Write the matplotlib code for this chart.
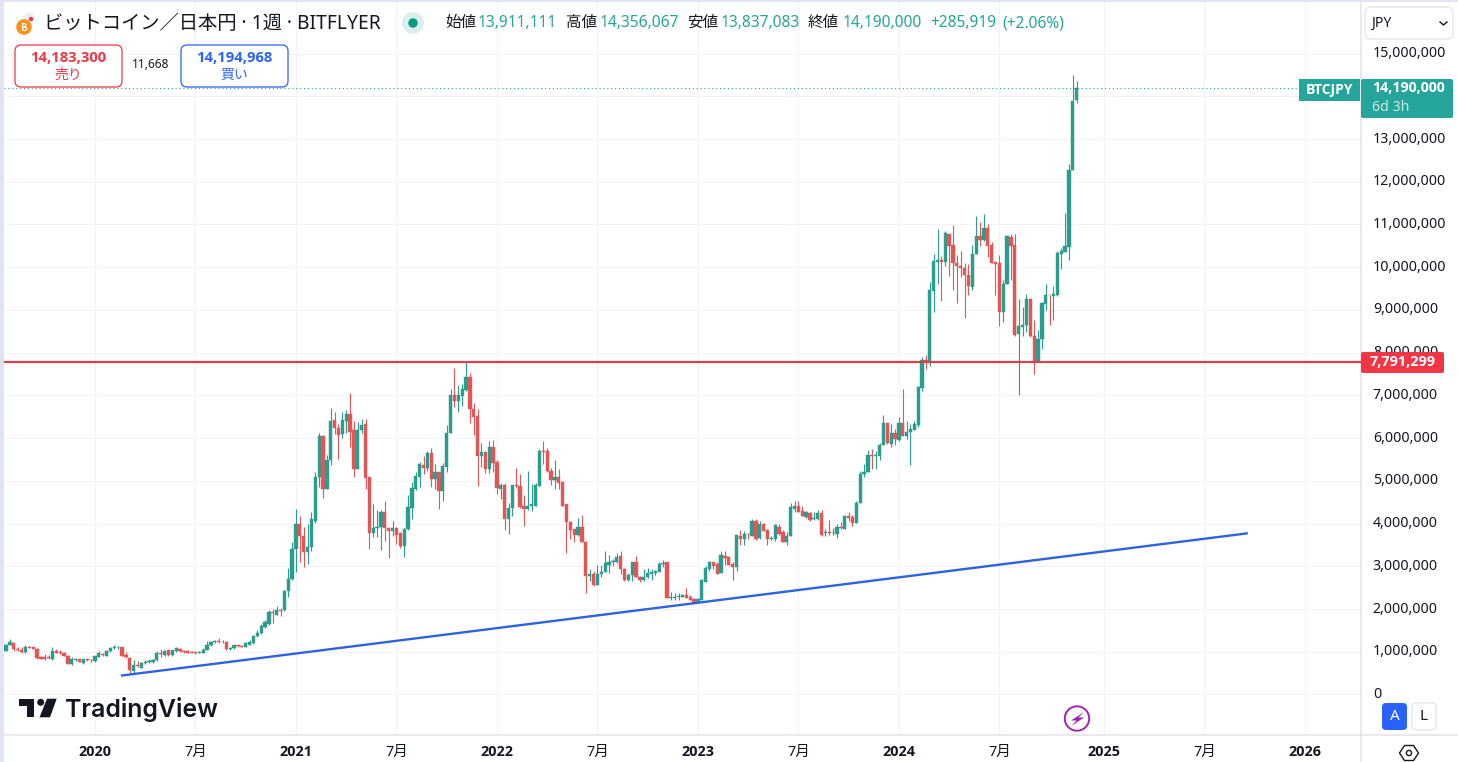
import numpy as np
import pandas as pd
import matplotlib
matplotlib.use("Agg")
import matplotlib.pyplot as plt
from matplotlib.patches import Circle, FancyBboxPatch, Polygon, Rectangle

plt.rcParams['font.family'] = ['Noto Sans', 'Noto Sans CJK JP', 'DejaVu Sans']
BOLD_FONT = ['Open Sans', 'Noto Sans CJK JP', 'DejaVu Sans']

# --- Weekly BTC/JPY candles, in units of 10,000 yen ---
first_week = "2019-07-29"

opens = [
    101, 117, 121, 107, 105, 100, 112, 110, 107, 88,
    88, 88, 84, 101, 100, 98, 91, 72, 80, 82,
    74, 82, 81, 78, 88, 95, 91, 101, 109, 110,
    111, 92, 85, 55, 69, 62, 73, 75, 75, 80,
    97, 92, 103, 93, 101, 107, 102, 101, 100, 99,
    98, 97, 104, 116, 122, 126, 123, 124, 106, 108,
    115, 114, 111, 117, 120, 136, 143, 158, 165, 194,
    187, 198, 197, 242, 271, 340, 398, 372, 333, 345,
    407, 509, 606, 481, 549, 643, 624, 610, 641, 657,
    618, 527, 618, 632, 508, 378, 390, 391, 427, 390,
    382, 390, 377, 347, 387, 436, 481, 510, 538, 530,
    566, 504, 520, 476, 532, 612, 702, 688, 698, 713,
    744, 669, 651, 557, 568, 527, 580, 543, 482, 491,
    410, 437, 490, 487, 440, 434, 442, 442, 489, 571,
    569, 524, 501, 508, 498, 445, 404, 387, 373, 391,
    358, 277, 282, 257, 282, 286, 304, 311, 310, 323,
    294, 267, 279, 310, 276, 267, 275, 281, 285, 286,
    305, 310, 226, 226, 229, 229, 234, 229, 224, 215,
    222, 264, 294, 310, 305, 284, 325, 321, 305, 298,
    370, 365, 376, 372, 406, 367, 399, 384, 363, 364,
    393, 380, 358, 371, 434, 441, 430, 415, 425, 410,
    410, 424, 378, 381, 377, 376, 393, 388, 417, 415,
    402, 448, 515, 520, 561, 559, 558, 584, 635, 587,
    612, 596, 636, 604, 614, 619, 630, 718, 782, 776,
    944, 1012, 1018, 1012, 1078, 1051, 1011, 1004, 999, 982,
    954, 1030, 1072, 1063, 1091, 1051, 1012, 1010, 895, 960,
    1071, 1051, 843, 860, 864, 925, 840, 778, 833, 915,
    936, 932, 936, 1030, 1036, 1047, 1228, 1391.1111,
]
closes = [
    117, 122, 107, 104, 100, 112, 109, 107, 86, 84,
    83, 86, 101, 98, 97, 91, 72, 83, 82, 76,
    82, 80, 80, 89, 97, 93, 101, 109, 111, 111,
    90, 87, 58, 68, 67, 73, 77, 79, 81, 97,
    95, 102, 93, 103, 109, 101, 100, 98, 98, 97,
    100, 105, 117, 124, 125, 122, 124, 106, 108, 115,
    113, 112, 120, 122, 137, 145, 161, 169, 194, 190,
    198, 196, 243, 271, 341, 398, 370, 333, 346, 410,
    510, 606, 481, 549, 641, 623, 608, 643, 657, 615,
    527, 619, 631, 506, 378, 390, 392, 428, 389, 382,
    390, 374, 347, 388, 438, 483, 512, 540, 529, 566,
    504, 520, 476, 534, 612, 702, 688, 700, 716, 744,
    667, 649, 557, 568, 528, 580, 541, 483, 491, 410,
    437, 490, 487, 438, 434, 442, 445, 491, 571, 567,
    522, 501, 508, 496, 442, 403, 384, 373, 391, 357,
    277, 282, 257, 282, 287, 307, 310, 313, 321, 293,
    267, 280, 310, 275, 267, 275, 284, 286, 290, 305,
    307, 225, 228, 228, 231, 234, 226, 221, 215, 224,
    268, 296, 310, 300, 282, 326, 319, 302, 298, 373,
    364, 376, 375, 406, 365, 398, 382, 364, 366, 396,
    376, 358, 372, 438, 441, 428, 417, 426, 409, 412,
    424, 374, 381, 378, 378, 393, 389, 417, 414, 402,
    449, 516, 520, 561, 559, 561, 585, 635, 588, 613,
    598, 636, 604, 615, 622, 632, 719, 782, 777, 946,
    1014, 1018, 1012, 1080, 1050, 1010, 1002, 997, 981, 955,
    1032, 1074, 1063, 1091, 1049, 1010, 1008, 895, 961, 1073,
    1050, 842, 862, 865, 925, 838, 778, 833, 916, 936,
    934, 938, 1033, 1039, 1049, 1228, 1388, 1419,
]
highs = [
    118, 130, 122, 110, 110, 117, 113, 112, 108, 90,
    95, 92, 110, 106, 103, 99, 92, 88, 85, 83,
    84, 84, 84, 90, 102, 97, 103, 110, 115, 113,
    112, 100, 87, 80, 78, 77, 81, 83, 84, 101,
    107, 105, 104, 105, 112, 109, 103, 104, 102, 100,
    101, 108, 125, 126, 128, 133, 127, 125, 112, 117,
    116, 116, 122, 127, 139, 150, 166, 175, 197, 199,
    207, 202, 245, 295, 358, 434, 417, 393, 398, 427,
    520, 613, 608, 561, 671, 662, 633, 661, 666, 706,
    641, 637, 645, 645, 509, 445, 432, 432, 454, 392,
    405, 392, 380, 389, 466, 498, 521, 544, 559, 569,
    577, 540, 521, 541, 630, 714, 764, 725, 727, 778,
    753, 683, 668, 589, 570, 594, 596, 549, 495, 495,
    448, 491, 530, 515, 466, 522, 493, 495, 574, 594,
    576, 530, 549, 527, 499, 446, 405, 387, 413, 419,
    360, 294, 290, 304, 304, 335, 327, 316, 331, 335,
    296, 285, 311, 323, 277, 294, 295, 294, 291, 310,
    314, 311, 241, 237, 238, 235, 249, 232, 225, 226,
    271, 300, 312, 311, 310, 337, 337, 325, 310, 374,
    384, 382, 379, 411, 411, 407, 401, 388, 372, 398,
    399, 384, 381, 448, 452, 454, 440, 429, 427, 428,
    432, 431, 388, 409, 389, 398, 403, 419, 427, 419,
    452, 522, 540, 572, 575, 571, 589, 653, 636, 632,
    622, 649, 714, 641, 632, 641, 721, 791, 794, 966,
    1032, 1089, 1027, 1084, 1078, 1098, 1029, 1039, 1011, 1007,
    1051, 1119, 1106, 1124, 1100, 1060, 1013, 1029, 971, 1075,
    1078, 1077, 925, 908, 938, 927, 877, 854, 919, 960,
    936, 955, 1038, 1044, 1127, 1242, 1449, 1435.6067,
]
lows = [
    101, 116, 102, 101, 98, 98, 108, 106, 84, 82,
    81, 84, 80, 96, 95, 90, 71, 70, 78, 75,
    71, 78, 75, 76, 87, 90, 89, 99, 107, 106,
    89, 86, 47, 50, 64, 61, 72, 74, 74, 78,
    88, 89, 91, 91, 99, 99, 96, 97, 96, 95,
    97, 96, 103, 114, 120, 120, 121, 105, 104, 106,
    112, 110, 110, 116, 119, 134, 141, 156, 163, 168,
    186, 183, 195, 228, 267, 286, 310, 298, 306, 337,
    401, 485, 459, 480, 536, 610, 551, 600, 612, 579,
    510, 527, 612, 480, 340, 368, 368, 339, 360, 320,
    371, 353, 343, 321, 386, 410, 479, 485, 516, 524,
    485, 481, 434, 454, 521, 611, 674, 661, 676, 710,
    635, 608, 487, 532, 518, 518, 520, 470, 457, 386,
    376, 417, 484, 437, 394, 432, 429, 440, 487, 540,
    520, 491, 482, 481, 441, 331, 364, 356, 371, 356,
    237, 265, 253, 257, 275, 286, 284, 300, 307, 283,
    266, 265, 265, 274, 263, 266, 273, 267, 279, 286,
    298, 225, 220, 220, 222, 228, 226, 220, 215, 214,
    222, 263, 290, 294, 281, 284, 302, 302, 267, 290,
    351, 350, 364, 371, 362, 365, 382, 351, 362, 360,
    374, 356, 349, 371, 427, 427, 417, 413, 406, 409,
    409, 372, 372, 374, 374, 366, 387, 387, 406, 395,
    402, 448, 510, 520, 528, 528, 548, 584, 587, 579,
    585, 593, 604, 598, 538, 618, 626, 710, 762, 769,
    895, 960, 921, 1003, 979, 946, 916, 977, 881, 936,
    947, 1030, 1049, 1061, 1024, 1010, 934, 862, 871, 960,
    969, 840, 700, 838, 848, 837, 751, 778, 808, 901,
    864, 876, 933, 995, 1036, 1018, 1228, 1383.7083,
]

resistance_price = 7791299
trend_dates = ["2020-02-24", "2025-09-22"]
trend_prices = [445000, 3770000]

price_ticks = list(range(0, 16000000, 1000000))
time_ticks = ["2020-01-06", "2020-07-06", "2021-01-04", "2021-07-05", "2022-01-03", "2022-07-04",
              "2023-01-02", "2023-07-03", "2024-01-01", "2024-07-01", "2025-01-06", "2025-07-07",
              "2026-01-05"]
time_labels = ["2020", "7月", "2021", "7月", "2022", "7月", "2023", "7月", "2024", "7月", "2025", "7月", "2026"]

# --- Colours ---
UP = '#26a69a'
UP_CANDLE = '#2a9d8f'
DOWN_CANDLE = '#e35656'
GRID = '#f0f3fa'
BORDER = '#e0e3eb'
TEXT = '#131722'
RED = '#f23645'
BLUE = '#2962ff'

W, H = 1458, 762
fig = plt.figure(figsize=(W / 100, H / 100), dpi=100, facecolor='white')

# --- Price chart ---
ax = fig.add_axes([4 / W, 1 - 735 / H, (1361 - 4) / W, (735 - 2) / H])
dates = pd.date_range(first_week, periods=len(opens), freq="7D")
start = pd.Timestamp(first_week)
ax.set_xlim(start - pd.Timedelta(days=3.8), start + pd.Timedelta(days=2454))
ax.set_ylim(-948000, 16207000)

o = np.array(opens) * 10000
c = np.array(closes) * 10000
hi = np.array(highs) * 10000
lo = np.array(lows) * 10000
colors = [UP_CANDLE if b >= a else DOWN_CANDLE for a, b in zip(o, c)]

ax.vlines(dates, lo, hi, colors=colors, linewidth=0.8, zorder=3)
ax.bar(dates, np.abs(c - o), bottom=np.minimum(o, c), width=5.9, color=colors,
       edgecolor=colors, linewidth=0.3, zorder=4)

ax.axhline(c[-1], color=UP, linewidth=0.8, linestyle=(0, (1, 2.5)), zorder=2)
ax.axhline(resistance_price, color='#d6404f', linewidth=1.6, zorder=5)
ax.plot(pd.to_datetime(trend_dates), trend_prices, color='#2f62e0', linewidth=1.7, zorder=5)

ax.set_yticks(price_ticks)
# the 14,000,000 label sits behind the last-price tag in the app, so it never shows
ax.set_yticklabels(["" if p == 14000000 else f"{p:,}" for p in price_ticks], fontsize=10.2, color=TEXT)
ax.yaxis.tick_right()
for tick_label in ax.get_yticklabels():
    tick_label.set_verticalalignment('center')
ax.set_xticks(pd.to_datetime(time_ticks))
ax.set_xticklabels(time_labels, fontsize=10.4, color=TEXT)
for tick_label in ax.get_xticklabels():
    if tick_label.get_text() != "7月":
        tick_label.set_fontweight('bold')
        tick_label.set_family(BOLD_FONT)
ax.tick_params(axis='both', length=0)
ax.tick_params(axis='y', pad=8.5)
ax.tick_params(axis='x', pad=7.5)
ax.grid(True, color=GRID, linewidth=0.75)
ax.set_axisbelow(True)
for name, spine in ax.spines.items():
    spine.set_visible(name in ('right', 'bottom'))
    spine.set_color(BORDER)
    spine.set_linewidth(1.1)

# --- Overlay in pixel coordinates for the page furniture ---
ui = fig.add_axes([0, 0, 1, 1], facecolor='none')
ui.set_xlim(0, W)
ui.set_ylim(H, 0)
ui.axis('off')


def rounded(x0, y0, x1, y1, face, edge='none', radius=5, lw=1.0, z=6):
    ui.add_patch(FancyBboxPatch((x0, y0), x1 - x0, y1 - y0,
                                boxstyle=f"round,pad=0,rounding_size={radius}",
                                facecolor=face, edgecolor=edge, linewidth=lw, zorder=z))


def label(x, y, s, size=10.2, color=TEXT, ha='left', weight='normal', **kw):
    if weight == 'bold':
        kw.setdefault('family', BOLD_FONT)
    ui.text(x, y, s, fontsize=size, color=color, ha=ha, va='center', fontweight=weight, zorder=8, **kw)


# outer page band
ui.add_patch(Rectangle((0, 0), 4, H, facecolor='#e2e5f1', edgecolor='none', zorder=1))
ui.add_patch(Rectangle((0, 0), W, 2, facecolor='#e2e5f1', edgecolor='none', zorder=1))
ui.plot([1361, 1361], [735, H], color=BORDER, linewidth=1.1, zorder=2)
ui.plot([1361, W], [735, 735], color=BORDER, linewidth=1.1, zorder=2)

# title row
ui.add_patch(Circle((29, 18), 5.5, facecolor='#eceef6', edgecolor='none', zorder=6))
ui.add_patch(Circle((31, 19), 2.2, facecolor=RED, edgecolor='none', zorder=7))
ui.add_patch(Circle((24, 27), 7.8, facecolor='#f7931a', edgecolor='none', zorder=7))
# bitcoin sign: no installed family has it, so it is drawn as a small shape
ui.add_patch(Rectangle((22, 23), 1.3, 8, facecolor='white', edgecolor='none', zorder=8))
ui.add_patch(Circle((24.2, 25.3), 1.7, facecolor='none', edgecolor='white', linewidth=0.8, zorder=8))
ui.add_patch(Circle((24.6, 28.7), 1.9, facecolor='none', edgecolor='white', linewidth=0.8, zorder=8))
label(44, 24, "ビットコイン／日本円 · 1週 · BITFLYER", size=13.9)
ui.add_patch(Circle((413, 23), 11, facecolor='#d9f0ec', edgecolor='none', zorder=6))
ui.add_patch(Circle((413, 23), 4.7, facecolor='#089981', edgecolor='none', zorder=7))
for x, s in [(445, "始値"), (566, "高値"), (687, "安値"), (808, "終値")]:
    label(x, 23, s, size=11.2)
for x, s in [(478, "13,911,111"), (600, "14,356,067"), (721, "13,837,083"), (843, "14,190,000"),
             (930, "+285,919"), (1002, "(+2.06%)")]:
    label(x, 23, s, size=11.2, color=UP)

# sell and buy boxes
rounded(15, 45, 122, 87, 'white', edge=RED, radius=6, lw=0.9)
label(68, 58, "14,183,300", size=10.6, color=RED, ha='center', weight='bold')
label(68, 75, "売り", size=10, color=RED, ha='center')
label(151, 65, "11,668", size=8.6, ha='center')
rounded(181, 45, 288, 87, 'white', edge=BLUE, radius=6, lw=0.9)
label(234, 58, "14,194,968", size=10.6, color=BLUE, ha='center', weight='bold')
label(234, 75, "買い", size=10, color=BLUE, ha='center')

# currency dropdown
rounded(1365, 7, 1453, 39, 'white', edge=BORDER, radius=6, lw=0.9)
label(1371, 23.5, "JPY", size=10.2)
ui.plot([1440, 1443.5, 1447], [22, 25, 22], color=TEXT, linewidth=1.0, zorder=8)

# price tags
ui.add_patch(Rectangle((1299, 79), 61, 22, facecolor=UP, edgecolor='none', zorder=6))
label(1329.5, 90, "BTCJPY", size=10, color='white', ha='center', weight='bold')
rounded(1361, 79, 1453, 118, UP, radius=2)
label(1372, 88.5, "14,190,000", size=10.2, color='white', weight='bold')
label(1372, 107.5, "6d 3h", size=10.2, color='#c8ebe6')
rounded(1361, 352, 1444, 373, RED, radius=2)
label(1402.5, 362.5, "7,791,299", size=10.4, color='white', ha='center', weight='bold')
ui.add_patch(Rectangle((1362, 698), 96, 36, facecolor='white', edgecolor='none', zorder=5))

# TradingView mark
ui.add_patch(Polygon([(19, 698.7), (34.5, 698.7), (34.5, 717.3), (27, 717.3), (27, 705.5), (19, 705.5)],
                     facecolor=TEXT, edgecolor='none', zorder=7))
ui.add_patch(Circle((40.7, 702.3), 3.5, facecolor=TEXT, edgecolor='none', zorder=7))
ui.add_patch(Polygon([(47, 698.7), (56.7, 698.7), (50, 717.3), (39.5, 717.3)],
                     facecolor=TEXT, edgecolor='none', zorder=7))
label(65, 709, "TradingView", size=17.9, weight='semibold', family='Inter')

# lightning badge
ui.add_patch(Circle((1077, 718.5), 12.2, facecolor='white', edgecolor='#9c27b0', linewidth=1.4, zorder=7))
ui.add_patch(Polygon([(1084, 712), (1071, 720.5), (1076.5, 720.5), (1071.5, 726), (1084, 717.5), (1078.5, 717.5)],
                     facecolor='#9c27b0', edgecolor='none', zorder=8))

# auto / log buttons
rounded(1382, 703, 1407, 730, BLUE, radius=4)
label(1394.5, 716.5, "A", size=11, color='white', ha='center', weight='semibold')
rounded(1412, 703, 1436, 730, 'white', edge=BORDER, radius=4, lw=0.8)
label(1424, 716.5, "L", size=11, ha='center', weight='semibold')

# settings icon
ui.add_patch(Polygon([(1399.5, 753), (1404.5, 745.5), (1413.5, 745.5), (1418.5, 753), (1413.5, 760.5), (1404.5, 760.5)],
                     facecolor='none', edgecolor=TEXT, linewidth=1.0, zorder=7))
ui.add_patch(Circle((1409, 753), 2.6, facecolor='none', edgecolor=TEXT, linewidth=1.0, zorder=7))

fig.savefig("out.png", dpi=100)
